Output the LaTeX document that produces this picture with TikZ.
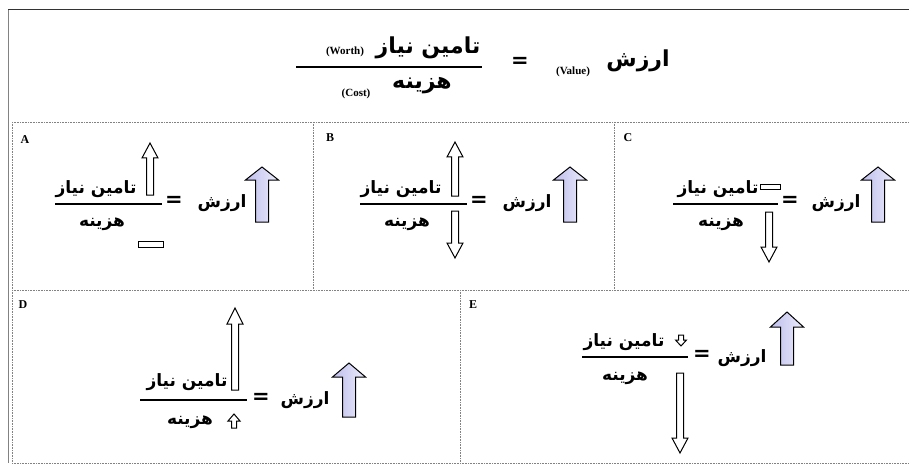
\documentclass[tikz,border=0pt]{standalone}
\usepackage{fontspec}
\TeXXeTstate=1
\newfontfamily\fa[Script=Arabic]{DejaVu Sans}
\newfontfamily\lat{Liberation Serif}
\newfontfamily\eqf{DejaVu Sans}
\definecolor{arrL}{RGB}{190,190,236}
\definecolor{arrR}{RGB}{236,236,252}
\definecolor{frameg}{RGB}{130,130,130}
\newcommand\blkarrow[7][]{%
  \draw[#1] (#2,#3) -- ({#2+#6},#4) -- ({#2+#7},#4) -- ({#2+#7},#5)
    -- ({#2-#7},#5) -- ({#2-#7},#4) -- ({#2-#6},#4) -- cycle;}
\tikzset{
  fatext/.style={inner sep=0pt, font=\fa\bfseries\fontsize{17}{17}\selectfont},
  fahead/.style={inner sep=0pt, font=\fa\bfseries\fontsize{22}{22}\selectfont},
  lbl/.style={inner sep=0pt, font=\lat\bfseries\fontsize{12}{12}\selectfont},
  smalllat/.style={inner sep=0pt, font=\lat\bfseries\fontsize{11}{11}\selectfont},
  eqsign/.style={inner sep=0pt, font=\eqf\bfseries\fontsize{21}{21}\selectfont},
  fracbar/.style={line width=1.2pt},
  bluearr/.style={draw=black, line width=1pt, left color=arrL, right color=arrR},
  outarr/.style={draw=black, line width=1pt, fill=white},
  dotline/.style={draw=frameg, line width=0.8pt, dash pattern=on 0.9pt off 0.7pt},
}
\begin{document}
\begin{tikzpicture}[x=1pt,y=-1pt]
\useasboundingbox (0,0) rectangle (909,465);
% frame
\draw[line width=1pt, black!80] (8,10) -- (909,10);
\draw[line width=1pt, frameg] (8,10) -- (8,463);
\draw[dotline] (12,122) -- (909,122);
\draw[dotline] (12,122) -- (12,463);
\draw[dotline] (313,122) -- (313,290);
\draw[dotline] (614,122) -- (614,290);
\draw[dotline] (12,290) -- (909,290);
\draw[dotline] (460,290) -- (460,463);
\draw[dotline] (12,463) -- (909,463);

% header
\node[fahead] (hnum) at (428,48) {\beginR تامین نیاز\endR};
\node[smalllat] (hworth) at (345,52) {(Worth)};
\node[fahead] (hden) at (422,86) {\beginR هزینه\endR};
\node[smalllat] (hcost) at (356,94) {(Cost)};
\draw[fracbar] (296,67) -- (482,67);
\node[eqsign] (heq) at (520,62) {=};
\node[smalllat] (hval) at (573,72) {(Value)};
\node[fahead] (hv) at (638,61) {\beginR ارزش\endR};

% cell A
\node[lbl] (la) at (25,140) {A};
\node[fatext] (anum) at (96,189) {\beginR تامین نیاز\endR};
\node[fatext] (aden) at (102,224) {\beginR هزینه\endR};
\draw[fracbar] (55,204) -- (162,204);
\node[eqsign] (aeq) at (174,201) {=};
\node[fatext] (av) at (222,203) {\beginR ارزش\endR};
\blkarrow[bluearr]{262}{167}{180}{222}{16.5}{6.5}
\blkarrow[outarr]{150}{143}{158}{195}{8}{3.5}
\draw[outarr] (138,241) rectangle (163,247);

% cell B
\node[lbl] (lb) at (330,138) {B};
\node[fatext] (bnum) at (401,189) {\beginR تامین نیاز\endR};
\node[fatext] (bden) at (407,224) {\beginR هزینه\endR};
\draw[fracbar] (360,204) -- (467,204);
\node[eqsign] (beq) at (479,201) {=};
\node[fatext] (bv) at (527,203) {\beginR ارزش\endR};
\blkarrow[bluearr]{570}{167}{180}{222}{16.5}{6.5}
\blkarrow[outarr]{455}{142}{157}{196}{8}{3.5}
\blkarrow[outarr]{455}{258}{243}{211}{8}{3.5}

% cell C
\node[lbl] (lc) at (628,138) {C};
\node[fatext] (cnum) at (718,189) {\beginR تامین نیاز\endR};
\node[fatext] (cden) at (721,224) {\beginR هزینه\endR};
\draw[fracbar] (673,204) -- (778,204);
\node[eqsign] (ceq) at (790,201) {=};
\node[fatext] (cv) at (836,203) {\beginR ارزش\endR};
\blkarrow[bluearr]{878}{167}{180}{222}{16.5}{6.5}
\draw[outarr] (760,184) rectangle (780,189);
\blkarrow[outarr]{769}{262}{247}{212}{8}{3.5}

% cell D
\node[lbl] (ld) at (23,305) {D};
\node[fatext] (dnum) at (187,382) {\beginR تامین نیاز\endR};
\node[fatext] (dden) at (190,422) {\beginR هزینه\endR};
\draw[fracbar] (140,400) -- (247,400);
\node[eqsign] (deq) at (261,398) {=};
\node[fatext] (dv) at (305,400) {\beginR ارزش\endR};
\blkarrow[bluearr]{349}{363}{377}{417}{16.5}{6.5}
\blkarrow[outarr]{235}{308}{324}{390}{8}{3.5}
\blkarrow[outarr]{234}{414}{421}{428}{6}{2.5}

% cell E
\node[lbl] (le) at (473,305) {E};
\node[fatext] (enum) at (624,342) {\beginR تامین نیاز\endR};
\node[fatext] (eden) at (625,378) {\beginR هزینه\endR};
\draw[fracbar] (582,357) -- (688,357);
\node[eqsign] (eeq) at (702,355) {=};
\node[fatext] (ev) at (742,358) {\beginR ارزش\endR};
\blkarrow[bluearr]{787}{312}{327}{365}{16.5}{6.5}
\blkarrow[outarr]{681}{346}{340}{335}{5.5}{2.5}
\blkarrow[outarr]{680}{453}{438}{373}{8}{3.5}
\end{tikzpicture}
\end{document}
